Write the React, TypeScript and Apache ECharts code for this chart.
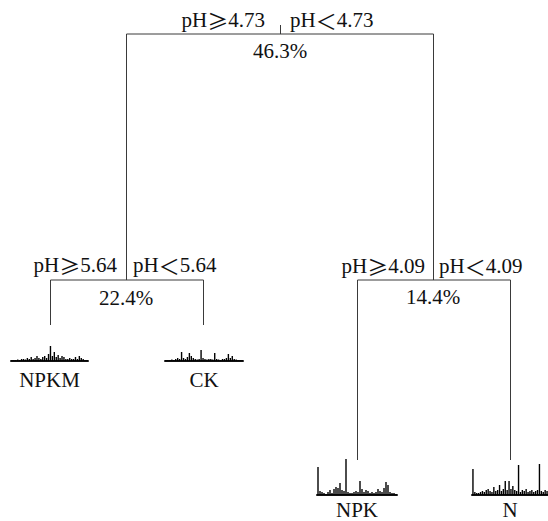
import React, { useEffect, useRef } from "react";
import * as echarts from "echarts";

// ---- data ----
const splitVariable = ["pH", "pH", "pH"];
const splitThresholds = ["4.73", "5.64", "4.09"];
const splitExplained = ["46.3%", "22.4%", "14.4%"];
const leafNames = ["NPKM", "CK", "NPK", "N"];
const npkmValues = [1, 1, 1, 1.5, 1, 2, 2, 1.5, 3, 2, 4, 2, 3, 5, 3, 2, 4, 5, 3, 7, 15, 5, 9, 4, 6, 3, 5, 4, 2, 2, 3, 2, 2, 4, 2, 5, 3, 2, 1, 1];
const ckValues = [1, 1, 1, 1.5, 1, 2, 3, 2, 9, 3, 2, 4, 8, 5, 3, 2, 1.5, 2, 11, 3, 2, 1.5, 2, 2, 1.5, 8, 2, 1.5, 1, 2, 2, 3, 7, 3, 5, 2, 1.5, 1, 1, 1];
const npkValues = [28, 4, 3, 2, 1, 3, 5, 2, 6, 8, 7, 12, 5, 4, 36, 3, 2, 2, 3, 4, 3, 14, 6, 3, 5, 4, 2, 3, 2, 3, 6, 4, 3, 7, 13, 10, 3, 2, 2, 1];
const nValues = [26, 3, 2, 2, 3, 4, 3, 5, 6, 4, 3, 8, 4, 5, 10, 4, 6, 14, 5, 14, 6, 9, 5, 4, 30, 3, 5, 4, 6, 3, 4, 5, 3, 4, 5, 31, 4, 3, 5, 4];
const leafValues = [npkmValues, ckValues, npkValues, nValues];

// ---- layout (px) ----
const W = 548;
const H = 521;
const FONT = "'Liberation Serif', 'Times New Roman', serif";
const SYM_FONT = "'Noto Sans CJK SC', 'DejaVu Sans', sans-serif";
const FS = 21;
const LINE = "#3a3a3a";
const INK = "#111";

const splitLayout = [
  { x: 280, y: 34, stemTop: 25, left: 126, right: 433, labelY: 20, pctY: 51, gapL: 15, gapR: 10 },
  { x: 126, y: 280, stemTop: 280, left: 50, right: 203, labelY: 265, pctY: 298, gapL: 9, gapR: 7 },
  { x: 433, y: 280, stemTop: 280, left: 357, right: 510, labelY: 266, pctY: 297, gapL: 8, gapR: 6 },
];
// children: left child then right child of each split (index <0 => leaf)
const childMap = [
  [1, 2],
  [-1, -2],
  [-3, -4],
];
const leafLayout = [
  { stemBottom: 325, chartLeft: 11, chartWidth: 77, base: 361, labelY: 380 },
  { stemBottom: 325, chartLeft: 165, chartWidth: 78, base: 361, labelY: 380 },
  { stemBottom: 460, chartLeft: 317, chartWidth: 80, base: 495, labelY: 510 },
  { stemBottom: 460, chartLeft: 472, chartWidth: 76, base: 495, labelY: 510 },
];
const CHART_H = 40;

export default function App() {
  const ref = useRef<HTMLDivElement>(null);
  useEffect(() => {
    if (!ref.current) return;
    const chart = echarts.init(ref.current, null, { renderer: "svg" });

    const segs: number[][] = [];
    splitLayout.forEach((s, i) => {
      if (i === 0) segs.push([s.x, s.stemTop, s.x, s.y]);
      segs.push([s.left, s.y, s.right, s.y]);
      childMap[i].forEach((c, k) => {
        const cx = k === 0 ? s.left : s.right;
        const bottom = c > 0 ? splitLayout[c].y : leafLayout[-c - 1].stemBottom;
        segs.push([cx, s.y, cx, bottom]);
      });
    });

    type Lbl = { x: number; y: number; text: string; align: string };
    const labels: Lbl[] = [];
    splitLayout.forEach((s, i) => {
      labels.push({ x: s.x - s.gapL, y: s.labelY, text: `{n|${splitVariable[i]}}{s|≥}{n|${splitThresholds[i]}}`, align: "right" });
      labels.push({ x: s.x + s.gapR, y: s.labelY, text: `{n|${splitVariable[i]}}{s|＜}{n|${splitThresholds[i]}}`, align: "left" });
      labels.push({ x: s.x, y: s.pctY, text: `{n|${splitExplained[i]}}`, align: "center" });
    });
    leafLayout.forEach((l, i) => {
      labels.push({ x: l.chartLeft + l.chartWidth / 2, y: l.labelY, text: `{n|${leafNames[i]}}`, align: "center" });
    });

    const grids: any[] = [{ left: 0, top: 0, width: W, height: H }];
    const xAxes: any[] = [{ type: "value", min: 0, max: W, show: false, gridIndex: 0 }];
    const yAxes: any[] = [{ type: "value", min: 0, max: H, inverse: true, show: false, gridIndex: 0 }];
    const series: any[] = [];

    leafLayout.forEach((l, i) => {
      const gi = i + 1;
      grids.push({ left: l.chartLeft, top: l.base - CHART_H, width: l.chartWidth, height: CHART_H });
      xAxes.push({
        type: "category",
        gridIndex: gi,
        data: leafValues[i].map((_, j) => j + 1),
        boundaryGap: true,
        axisLine: { show: true, lineStyle: { color: INK, width: 2 } },
        axisTick: { show: false },
        axisLabel: { show: false },
        splitLine: { show: false },
      });
      yAxes.push({ type: "value", gridIndex: gi, min: 0, max: CHART_H, show: false, splitLine: { show: false } });
      series.push({
        type: "bar",
        xAxisIndex: gi,
        yAxisIndex: gi,
        data: leafValues[i],
        barWidth: 1.4,
        itemStyle: { color: "#000" },
        silent: true,
      });
    });

    series.push({
      type: "custom",
      xAxisIndex: 0,
      yAxisIndex: 0,
      data: segs,
      silent: true,
      z: 10,
      renderItem: (_p: any, api: any) => {
        const a = api.coord([api.value(0), api.value(1)]);
        const b = api.coord([api.value(2), api.value(3)]);
        return {
          type: "line",
          shape: { x1: Math.round(a[0]) + 0.5, y1: a[1], x2: Math.round(b[0]) + 0.5, y2: b[1] },
          style: { stroke: LINE, lineWidth: 1 },
        };
      },
    });

    series.push({
      type: "custom",
      xAxisIndex: 0,
      yAxisIndex: 0,
      data: labels.map((l, i) => [l.x, l.y, i]),
      silent: true,
      z: 11,
      renderItem: (_p: any, api: any) => {
        const lbl = labels[api.value(2)];
        const p = api.coord([api.value(0), api.value(1)]);
        return {
          type: "text",
          x: p[0],
          y: p[1],
          style: {
            text: lbl.text,
            fill: INK,
            fontSize: FS,
            fontFamily: FONT,
            align: lbl.align,
            verticalAlign: "middle",
            rich: {
              n: { fontFamily: FONT, fontSize: FS, fill: INK },
              s: { fontFamily: SYM_FONT, fontSize: FS, fill: INK },
            },
          },
        };
      },
    });

    chart.setOption({
      animation: false,
      backgroundColor: "#fff",
      grid: grids,
      xAxis: xAxes,
      yAxis: yAxes,
      series,
    });
    return () => chart.dispose();
  }, []);
  return <div ref={ref} style={{ position: "fixed", left: 0, top: 0, width: W, height: H }} />;
}
